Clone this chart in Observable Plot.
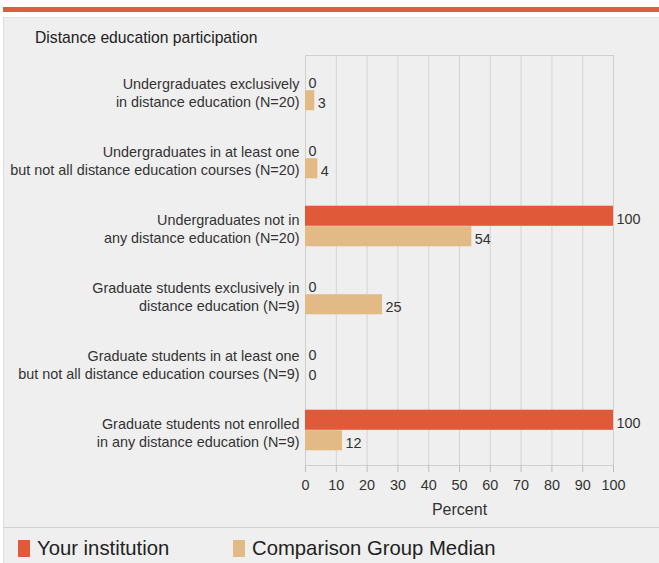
<!DOCTYPE html>
<html>
<head>
<meta charset="utf-8">
<script src="https://cdn.jsdelivr.net/npm/d3@7"></script>
<script src="https://cdn.jsdelivr.net/npm/@observablehq/plot@0.6"></script>
<style>
  html, body { margin: 0; padding: 0; background: #ffffff; }
  body { width: 659px; height: 563px; position: relative; overflow: hidden; font-family: "Liberation Sans", Arial, sans-serif; }
  #topbar { position: absolute; left: 3px; right: 0; top: 7px; height: 5px; background: #d9603c; }
  #panel { position: absolute; left: 3px; right: 0; top: 17px; bottom: 0; background: #efefef; border-left: 1px solid #dcdcdc; border-top: 1px solid #e2e2e2; }
  #title { position: absolute; left: 35px; top: 28px; font-size: 15.7px; color: #222; line-height: 20px; }
  #chart { position: absolute; left: 0; top: 45px; }
  #sep { position: absolute; left: 3px; right: 0; top: 527px; height: 1px; background: #d2d2d2; }
  #legend { position: absolute; left: 18px; top: 537px; display: flex; align-items: center; font-size: 20.3px; color: #222; line-height: 22px; }
  .sw { display: inline-block; width: 12px; height: 17px; margin-right: 7px; flex: none; }
  .item { display: flex; align-items: center; white-space: nowrap; }
  .item:first-child { width: 215px; }
</style>
</head>
<body>
<div id="topbar"></div>
<div id="panel"></div>
<div id="title">Distance education participation</div>
<div id="chart"></div>
<div id="sep"></div>
<div id="legend"></div>
<script>
const categories = [
  "Undergraduates exclusively\nin distance education (N=20)",
  "Undergraduates in at least one\nbut not all distance education courses (N=20)",
  "Undergraduates not in\nany distance education (N=20)",
  "Graduate students exclusively in\ndistance education (N=9)",
  "Graduate students in at least one\nbut not all distance education courses (N=9)",
  "Graduate students not enrolled\nin any distance education (N=9)"
];
const institution = [0, 0, 100, 0, 0, 100];
const median = [3, 4, 54, 25, 0, 12];
const seriesNames = ["Your institution", "Comparison Group Median"];
const seriesColors = ["#e05a3a", "#e2ba85"];
const xTicks = [0, 10, 20, 30, 40, 50, 60, 70, 80, 90, 100];

const instData = categories.map((c, i) => ({category: c, value: institution[i]}));
const medData = categories.map((c, i) => ({category: c, value: median[i]}));

const plot = Plot.plot({
  width: 659,
  height: 480,
  marginLeft: 305,
  marginRight: 46,
  marginTop: 10,
  marginBottom: 60,
  style: {fontFamily: "'Liberation Sans', Arial, sans-serif", fontSize: "14.4px", background: "transparent", color: "#333"},
  x: {domain: [0, 100]},
  y: {domain: categories, padding: 0, axis: null},
  marks: [
    Plot.gridX(xTicks, {stroke: "#d4d4d4", strokeOpacity: 1}),
    Plot.frame({stroke: "#cfcfcf"}),
    Plot.barX(instData, {x: "value", y: "category", fill: seriesColors[0], insetTop: 13.7, insetBottom: 34.2}),
    Plot.barX(medData, {x: "value", y: "category", fill: seriesColors[1], insetTop: 34.2, insetBottom: 13.7}),
    Plot.text(instData, {x: "value", y: "category", text: d => String(d.value), dy: -7, dx: 3, textAnchor: "start", fill: "#333", fontSize: 14.4}),
    Plot.text(medData, {x: "value", y: "category", text: d => String(d.value), dy: 13, dx: 3, textAnchor: "start", fill: "#333", fontSize: 14.4}),
    Plot.text(categories, {x: 0, y: d => d, text: d => d, dx: -6, dy: 2, textAnchor: "end", lineHeight: 1.25, fill: "#333", fontSize: 14.4}),
    Plot.axisX(xTicks, {tickSize: 7, tickPadding: 7, stroke: "#bdbdbd", fill: "#333", fontSize: 14.4, label: null}),
    Plot.axisX({ticks: [], tickSize: 0, label: "Percent", labelAnchor: "center", labelArrow: "none", labelOffset: 49, fill: "#333", fontSize: 16})
  ]
});
document.getElementById("chart").appendChild(plot);

const legend = document.getElementById("legend");
seriesNames.forEach((name, i) => {
  const item = document.createElement("div");
  item.className = "item";
  const sw = document.createElement("span");
  sw.className = "sw";
  sw.style.background = seriesColors[i];
  item.appendChild(sw);
  item.appendChild(document.createTextNode(name));
  legend.appendChild(item);
});
</script>
</body>
</html>
